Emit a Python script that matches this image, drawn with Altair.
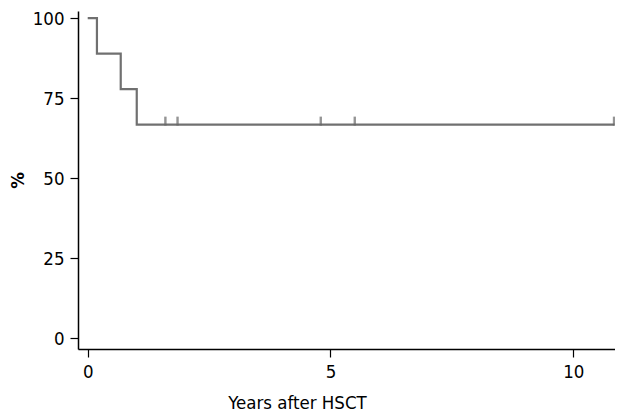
import altair as alt
import pandas as pd

# Kaplan-Meier step curve
step_years = [0.0, 0.19, 0.68, 1.01, 10.85]
step_pct = [100.0, 88.9, 77.8, 66.7, 66.7]
# censored observations
censor_years = [1.6, 1.85, 4.8, 5.5, 10.84]
censor_pct = [66.7, 66.7, 66.7, 66.7, 66.7]

steps = pd.DataFrame({"years": step_years, "pct": step_pct})
cens = pd.DataFrame({"years": censor_years, "pct": censor_pct})

FONT = "DejaVu Sans Condensed"
LINE = "#707070"

xs = alt.Scale(domain=[-0.2, 10.86], nice=False, zero=False)
ys = alt.Scale(domain=[-3.4, 102.2], nice=False, zero=False)

xax = alt.Axis(values=[0, 5, 10], title="Years after HSCT", grid=False,
               tickSize=8, labelPadding=5, titleX=219, titleAnchor="start",
               titleAlign="center", titleY=44, titleBaseline="top",
               titleFontWeight="normal")
yax = alt.Axis(values=[0, 25, 50, 75, 100], title="%", grid=False,
               tickSize=8, labelPadding=6, titlePadding=5,
               titleFontWeight="bold")

line = alt.Chart(steps).mark_line(interpolate="step-after", color=LINE,
                                  strokeWidth=2.2, clip=False).encode(
    x=alt.X("years:Q", scale=xs, axis=xax),
    y=alt.Y("pct:Q", scale=ys, axis=yax),
)

ticks = alt.Chart(cens).mark_tick(orient="vertical", color="#666666", thickness=2.4,
                                  size=9, yOffset=-3.5, clip=False).encode(
    x=alt.X("years:Q", scale=xs),
    y=alt.Y("pct:Q", scale=ys),
)

chart = (line + ticks).properties(
    width=537, height=338,
    autosize=alt.AutoSizeParams(type="none"),
    padding={"left": 70, "top": 3, "right": 0, "bottom": 70},
).configure_view(stroke=None).configure_axis(
    domainColor="black", tickColor="black", domainWidth=1.5, tickWidth=1.2,
    labelFont=FONT, titleFont=FONT, labelFontSize=18.5, titleFontSize=18.5,
    labelColor="black", titleColor="black",
)

chart.save("out.html", embed_options={"renderer": "svg", "actions": False})
